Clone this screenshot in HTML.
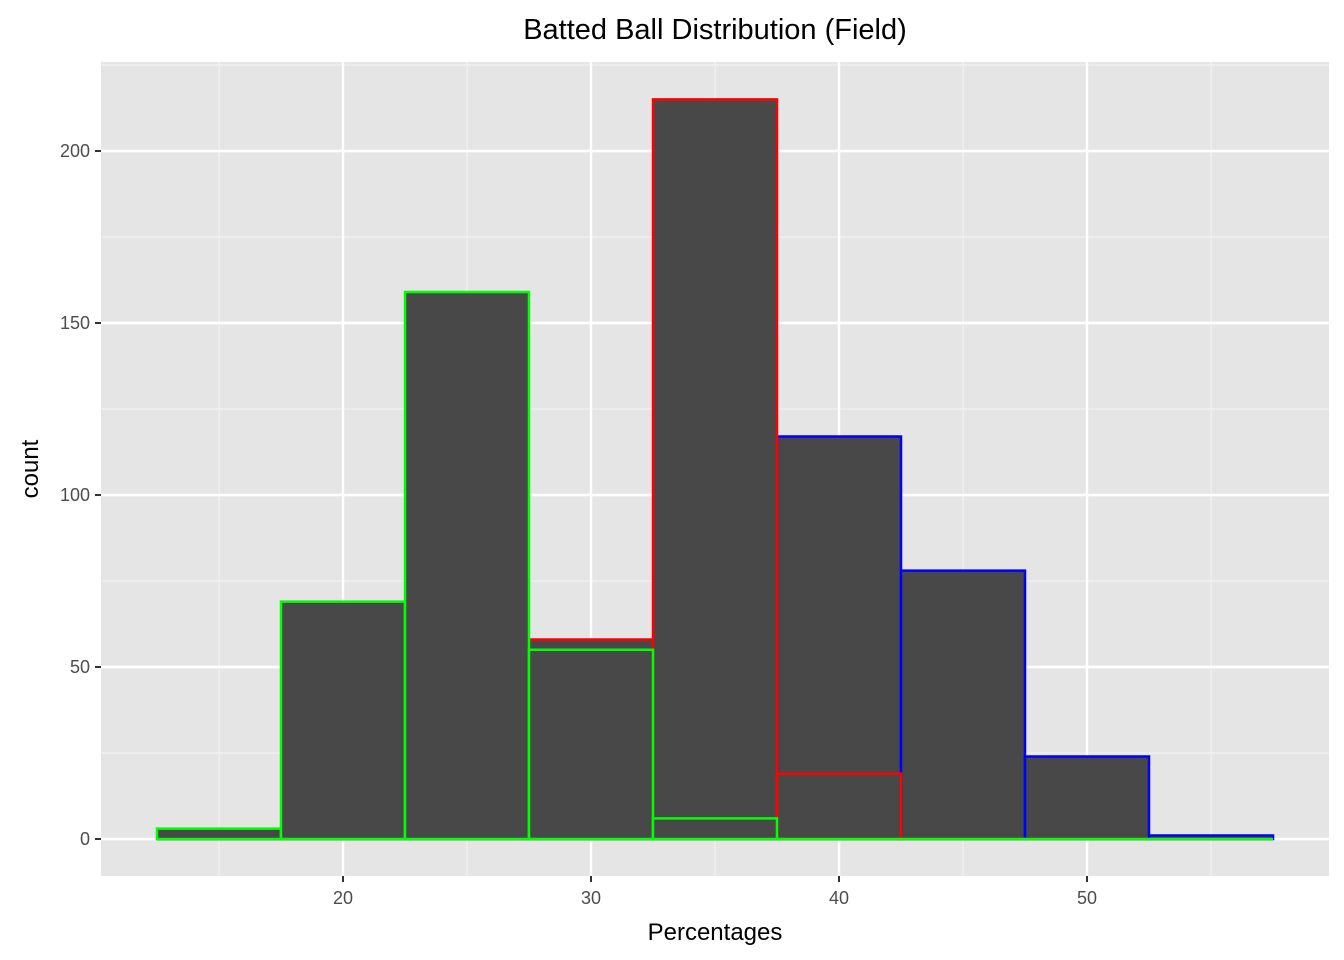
<!DOCTYPE html>
<html><head><meta charset="utf-8"><style>
html,body{margin:0;padding:0;background:#fff;}
svg{display:block;font-family:"Liberation Sans",Arial,sans-serif;}
</style></head><body>
<svg id="chart" width="1344" height="960" xmlns="http://www.w3.org/2000/svg">
<text x="715" y="39" text-anchor="middle" font-size="29" fill="#000">Batted Ball Distribution (Field)</text>
<rect x="101" y="62" width="1228" height="814" fill="#e5e5e5"/>
<g id="grid"></g>
<g id="bars"></g>
<g id="axes"></g>
<text x="715" y="940" text-anchor="middle" font-size="24" fill="#000">Percentages</text>
<text transform="translate(38,469) rotate(-90)" text-anchor="middle" font-size="24" fill="#000">count</text>
</svg>
<script>
const binCenters = [15,20,25,30,35,40,45,50,55];
const blueCounts = [0,0,0,0,0,117,78,24,1];
const redCounts = [0,0,0,58,215,19,0,0,0];
const greenCounts = [3,69,159,55,6,0,0,0,0];
const xTicks = [20,30,40,50];
const yTicks = [0,50,100,150,200];
const binWidth = 5;
const NS = "http://www.w3.org/2000/svg";
function xs(v){return 343 + (v-20)*24.8;}
function ys(v){return 839 - v*3.44;}
function mk(tag, attrs, parent){const e=document.createElementNS(NS,tag);for(const k in attrs)e.setAttribute(k,attrs[k]);parent.appendChild(e);return e;}
const grid=document.getElementById('grid'), bars=document.getElementById('bars'), axes=document.getElementById('axes');
for(let i=0;i<xTicks.length+1;i++){const v=xTicks[0]-5+i*10;const l=mk('line',{x1:xs(v),x2:xs(v),y1:62,y2:876,stroke:'#f2f2f2','stroke-width':1.2},grid);

}
for(let i=0;i<yTicks.length;i++){const v=yTicks[i]+25;const l=mk('line',{x1:101,x2:1329,y1:ys(v),y2:ys(v),stroke:'#f2f2f2','stroke-width':1.2},grid);

}
xTicks.forEach(v=>{const l=mk('line',{x1:xs(v),x2:xs(v),y1:62,y2:876,stroke:'#fff','stroke-width':2.4},grid);


const t=mk('line',{x1:xs(v),x2:xs(v),y1:876,y2:882,stroke:'#333','stroke-width':2},axes);


const tx=mk('text',{x:xs(v),y:904,'text-anchor':'middle','font-size':18,fill:'#4d4d4d'},axes);tx.textContent=v;

});
yTicks.forEach(v=>{const l=mk('line',{x1:101,x2:1329,y1:ys(v),y2:ys(v),stroke:'#fff','stroke-width':2.4},grid);


const t=mk('line',{x1:95,x2:101,y1:ys(v),y2:ys(v),stroke:'#333','stroke-width':2},axes);


const tx=mk('text',{x:90,y:ys(v)+6,'text-anchor':'end','font-size':18,fill:'#4d4d4d'},axes);tx.textContent=v;

});
function drawSeries(counts,color,name){counts.forEach((c,i)=>{const x0=xs(binCenters[i]-binWidth/2),x1=xs(binCenters[i]+binWidth/2);
const y0=ys(0),y1=ys(c);
const r=mk('path',{d:`M${x0},${y0}L${x0},${y1}L${x1},${y1}L${x1},${y0}Z`,fill:'#484848',stroke:color,'stroke-width':2.5},bars);

});}
drawSeries(blueCounts,'#0000ff','blue');
drawSeries(redCounts,'#ff0000','red');
drawSeries(greenCounts,'#00ff00','green');
</script>
</body></html>
